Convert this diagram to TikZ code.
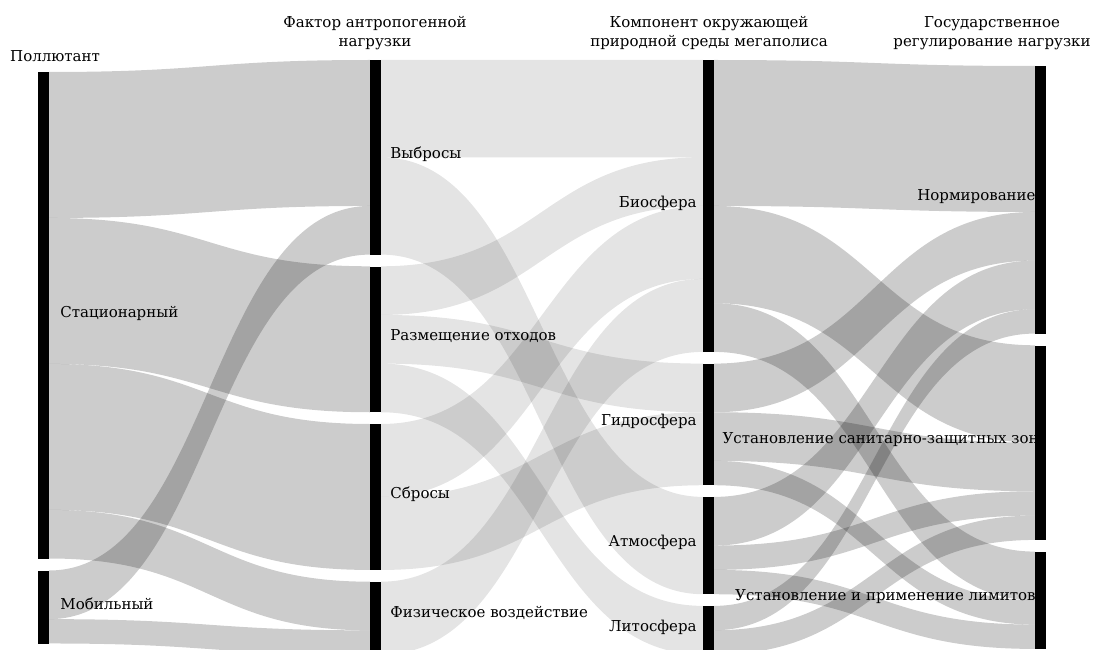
\documentclass[tikz,border=0pt]{standalone}
\usepackage{fontspec}
\setmainfont{DejaVu Serif}
\tikzset{
  bar/.style={fill=black, inner sep=0pt, minimum width=11pt, anchor=north},
  lbl/.style={inner sep=0pt, font=\fontsize{15}{18}\selectfont},
  hdr/.style={inner sep=0pt, align=center, anchor=north, font=\fontsize{15}{19}\selectfont},
  dk/.style={fill=black, fill opacity=0.2},
  lt/.style={fill=black, fill opacity=0.105}
}
\def\val{48.65}
% band from (x0,top0) to (x1,top1), width in units
\newcommand{\flow}[6][dk]{%
  \fill[#1] (#2,#3) .. controls ({(#2+#4)/2},#3) and ({(#2+#4)/2},#5) .. (#4,#5)
    -- (#4,{#5+#6*\val}) .. controls ({(#2+#4)/2},{#5+#6*\val}) and ({(#2+#4)/2},{#3+#6*\val}) .. (#2,{#3+#6*\val}) -- cycle;}

\begin{document}
\begin{tikzpicture}[x=1pt, y=-1pt]
\useasboundingbox (0,0) rectangle (1093,650);
\clip (0,0) rectangle (1093,650);

% pollutant -> load factor
\flow{49}{72}{370}{60}{3}
\flow{49}{217.95}{370}{266.3}{3}
\flow{49}{363.9}{370}{424}{3}
\flow{49}{509.85}{370}{581.7}{1}
\flow{49}{570.5}{370}{205.95}{1}
\flow{49}{619.15}{370}{630.35}{0.5}

% load factor -> environment
\flow[lt]{381}{60}{703}{60}{2}
\flow[lt]{381}{157.3}{703}{496.9}{2}
\flow[lt]{381}{266.3}{703}{157.3}{1}
\flow[lt]{381}{314.95}{703}{363.6}{1}
\flow[lt]{381}{363.6}{703}{605.9}{1}
\flow[lt]{381}{424}{703}{205.95}{1.5}
\flow[lt]{381}{496.98}{703}{412.25}{1.5}
\flow[lt]{381}{581.7}{703}{278.93}{1.5}

% environment -> regulation
\flow{714}{60}{1035}{66}{3}
\flow{714}{205.95}{1035}{345.3}{2}
\flow{714}{303.25}{1035}{551.6}{1}
\flow{714}{363.6}{1035}{211.95}{1}
\flow{714}{412.25}{1035}{442.6}{1}
\flow{714}{460.9}{1035}{600.25}{0.5}
\flow{714}{496.9}{1035}{260.6}{1}
\flow{714}{545.55}{1035}{491.25}{0.5}
\flow{714}{569.9}{1035}{624.6}{0.5}
\flow{714}{605.9}{1035}{309.25}{0.5}
\flow{714}{630.25}{1035}{515.6}{0.5}

% bars
\node[bar, minimum height=486.5pt] (stat) at (43.5,72) {};
\node[bar, minimum height=73pt] (mob) at (43.5,570.5) {};
\node[bar, minimum height=194.6pt] (vybr) at (375.5,60) {};
\node[bar, minimum height=145.95pt] (razm) at (375.5,266.3) {};
\node[bar, minimum height=145.95pt] (sbr) at (375.5,424) {};
\node[bar, minimum height=73pt] (fiz) at (375.5,581.7) {};
\node[bar, minimum height=291.9pt] (bio) at (708.5,60) {};
\node[bar, minimum height=121.6pt] (gidro) at (708.5,363.6) {};
\node[bar, minimum height=97.3pt] (atmo) at (708.5,496.9) {};
\node[bar, minimum height=48.65pt] (lito) at (708.5,605.9) {};
\node[bar, minimum height=267.6pt] (norm) at (1040.5,66) {};
\node[bar, minimum height=194.6pt] (san) at (1040.5,345.3) {};
\node[bar, minimum height=97.3pt] (lim) at (1040.5,551.6) {};

% labels
\node[lbl, anchor=west, xshift=11pt] (statl) at ([yshift=2pt]stat.east) {Стационарный};
\node[lbl, anchor=west, xshift=11pt] (mobl) at ([yshift=3pt]mob.east) {Мобильный};
\node[lbl, anchor=west, xshift=9pt] (vybrl) at ([yshift=3pt]vybr.east) {Выбросы};
\node[lbl, anchor=west, xshift=9pt] (razml) at ([yshift=3pt]razm.east) {Размещение отходов};
\node[lbl, anchor=west, xshift=9pt] (sbrl) at ([yshift=3pt]sbr.east) {Сбросы};
\node[lbl, anchor=west, xshift=9pt] (fizl) at ([yshift=5pt]fiz.east) {Физическое воздействие};
\node[lbl, anchor=east, xshift=-6pt] (biol) at ([yshift=3pt]bio.west) {Биосфера};
\node[lbl, anchor=east, xshift=-6pt] (gidrol) at ([yshift=3pt]gidro.west) {Гидросфера};
\node[lbl, anchor=east, xshift=-6pt] (atmol) at ([yshift=3pt]atmo.west) {Атмосфера};
\node[lbl, anchor=east, xshift=-6pt] (litol) at ([yshift=3pt]lito.west) {Литосфера};
\node[lbl, anchor=east, xshift=1pt] (norml) at ([yshift=3pt]norm.west) {Нормирование};
\node[lbl, anchor=east, xshift=4pt] (sanl) at ([yshift=3pt]san.west) {Установление санитарно-защитных зон};
\node[lbl, anchor=east, xshift=1pt] (liml) at ([yshift=4pt]lim.west) {Установление и применение лимитов};

% column titles
\node[hdr, anchor=north west] (hpol) at (10,50) {Поллютант};
\node[hdr] (hfac) at (375,16) {Фактор антропогенной\\нагрузки};
\node[hdr] (henv) at (709,16) {Компонент окружающей\\природной среды мегаполиса};
\node[hdr] (hreg) at (992,16) {Государственное\\регулирование нагрузки};
\end{tikzpicture}
\end{document}
